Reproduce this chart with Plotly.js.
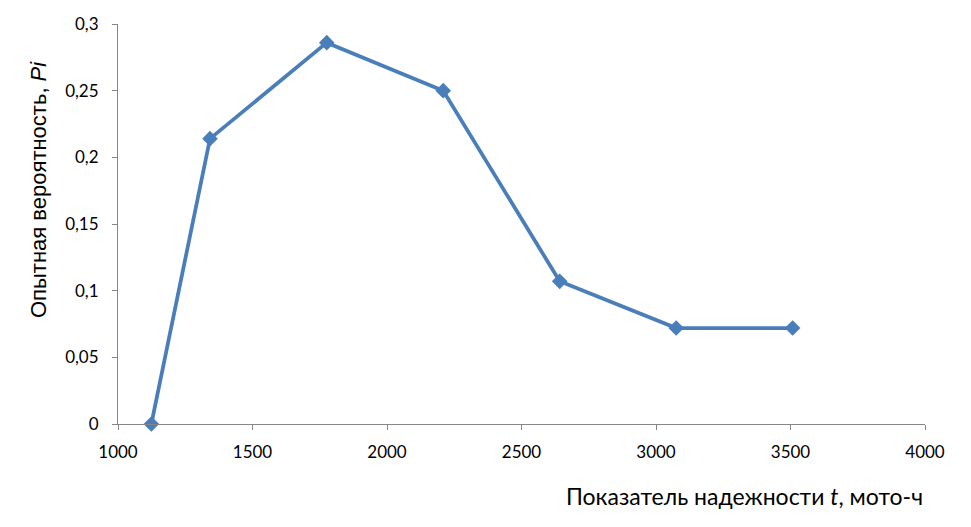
<!DOCTYPE html>
<html>
<head>
<meta charset="utf-8">
<script src="https://cdn.plot.ly/plotly-3.0.1.min.js"></script>
<style>html,body{margin:0;padding:0;background:#fff;}#chart{width:971px;height:527px;}</style>
</head>
<body>
<div id="chart"></div>
<script>
const tValues = [1124, 1342, 1776, 2209, 2642, 3075, 3508];
const pValues = [0, 0.214, 0.286, 0.25, 0.107, 0.072, 0.072];
const xTitle = 'Показатель надежности <i>t</i>, мото-ч';
const yTitle = 'Опытная вероятность, <i>Pi</i>';

const trace = {
  x: tValues, y: pValues, type: 'scatter', mode: 'lines+markers',
  line: {color: '#4A7EBB', width: 3.75},
  marker: {symbol: 'diamond', size: 12, color: '#4A7EBB'},
  cliponaxis: false, showlegend: false, hoverinfo: 'skip'
};
const font = {family: 'Lato, "Open Sans", sans-serif', size: 17, color: '#000'};
const layout = {
  width: 971, height: 527,
  margin: {l: 118, r: 46, t: 24, b: 103},
  paper_bgcolor: '#fff', plot_bgcolor: '#fff',
  separators: ', ',
  font: font,
  xaxis: {
    range: [1000, 4000], dtick: 500, tick0: 1000, showgrid: false, zeroline: false,
    showline: true, linecolor: '#868686', linewidth: 1,
    ticks: 'outside', ticklen: 5, tickcolor: '#868686', tickfont: font, ticklabelstandoff: 8
  },
  yaxis: {
    range: [0, 0.3], dtick: 0.05, tick0: 0, showgrid: false, zeroline: false,
    showline: true, linecolor: '#868686', linewidth: 1,
    ticks: 'outside', ticklen: 5, tickcolor: '#868686', tickfont: font, ticklabelstandoff: 10
  },
  annotations: [{
    text: xTitle, xref: 'paper', yref: 'paper', x: 1, y: 0, xanchor: 'right', yanchor: 'top',
    yshift: -56, xshift: 0, showarrow: false, font: {family: font.family, size: 23, color: '#000'}
  }, {
    text: yTitle, xref: 'paper', yref: 'paper', x: 0, y: 0.585, xanchor: 'center', yanchor: 'middle',
    xshift: -80, textangle: -90, showarrow: false,
    font: {family: '"Liberation Sans", Arial, sans-serif', size: 22, color: '#000'}
  }]
};
Plotly.newPlot('chart', [trace], layout, {staticPlot: true});
</script>
</body>
</html>
